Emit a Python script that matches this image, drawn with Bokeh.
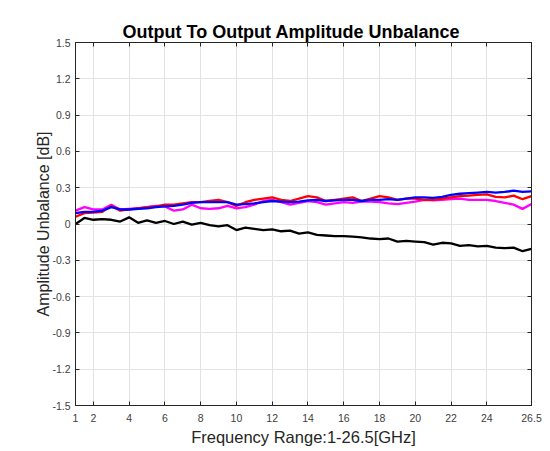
from bokeh.plotting import figure
from bokeh.models import FixedTicker, LinearAxis, Range1d
from bokeh.embed import file_html
from bokeh.resources import INLINE

freq = [1, 1.5, 2, 2.5, 3, 3.5, 4, 4.5, 5, 5.5, 6, 6.5, 7, 7.5, 8, 8.5, 9, 9.5,
        10, 10.5, 11, 11.5, 12, 12.5, 13, 13.5, 14, 14.5, 15, 15.5, 16, 16.5,
        17, 17.5, 18, 18.5, 19, 19.5, 20, 20.5, 21, 21.5, 22, 22.5, 23, 23.5,
        24, 24.5, 25, 25.5, 26, 26.5]

blue = [0.09, 0.10, 0.10, 0.11, 0.14, 0.12, 0.12, 0.125, 0.13, 0.14, 0.145, 0.15,
        0.16, 0.175, 0.18, 0.18, 0.18, 0.18, 0.16, 0.165, 0.17, 0.18, 0.19, 0.185,
        0.18, 0.185, 0.195, 0.20, 0.19, 0.195, 0.20, 0.20, 0.19, 0.20, 0.20, 0.205,
        0.20, 0.21, 0.22, 0.22, 0.215, 0.225, 0.24, 0.25, 0.255, 0.26, 0.265, 0.26,
        0.265, 0.275, 0.265, 0.27]

red = [0.06, 0.09, 0.095, 0.10, 0.15, 0.11, 0.12, 0.13, 0.14, 0.145, 0.16, 0.16,
       0.17, 0.18, 0.18, 0.19, 0.20, 0.18, 0.15, 0.18, 0.20, 0.21, 0.22, 0.20,
       0.19, 0.21, 0.23, 0.22, 0.19, 0.20, 0.21, 0.22, 0.19, 0.21, 0.23, 0.22,
       0.20, 0.21, 0.21, 0.20, 0.20, 0.21, 0.22, 0.23, 0.235, 0.24, 0.245, 0.225,
       0.22, 0.235, 0.205, 0.23]

magenta = [0.11, 0.14, 0.12, 0.12, 0.16, 0.12, 0.125, 0.13, 0.14, 0.15, 0.145, 0.11,
           0.12, 0.16, 0.13, 0.125, 0.13, 0.15, 0.13, 0.14, 0.16, 0.19, 0.20, 0.18,
           0.16, 0.175, 0.19, 0.18, 0.16, 0.17, 0.18, 0.175, 0.185, 0.185, 0.18, 0.17,
           0.165, 0.175, 0.185, 0.20, 0.195, 0.20, 0.205, 0.21, 0.20, 0.20, 0.20, 0.19,
           0.175, 0.16, 0.125, 0.165]

black = [0.0, 0.05, 0.035, 0.04, 0.035, 0.02, 0.055, 0.01, 0.03, 0.01, 0.025, 0.0,
         0.02, -0.005, 0.01, -0.01, -0.02, -0.01, -0.05, -0.03, -0.04, -0.05, -0.045, -0.06,
         -0.055, -0.08, -0.07, -0.09, -0.095, -0.10, -0.10, -0.105, -0.11, -0.12, -0.125, -0.12,
         -0.145, -0.14, -0.145, -0.15, -0.17, -0.155, -0.16, -0.18, -0.175, -0.185, -0.18, -0.195,
         -0.20, -0.195, -0.225, -0.205]

x_ticks = [1, 2, 4, 6, 8, 10, 12, 14, 16, 18, 20, 22, 24, 26.5]
x_tick_labels = ["1", "2", "4", "6", "8", "10", "12", "14", "16", "18", "20", "22", "24", "26.5"]
y_ticks = [-1.5, -1.2, -0.9, -0.6, -0.3, 0, 0.3, 0.6, 0.9, 1.2, 1.5]
y_tick_labels = ["-1.5", "-1.2", "-0.9", "-0.6", "-0.3", "0", "0.3", "0.6", "0.9", "1.2", "1.5"]

FONT = "Liberation Sans"
AX = "#262626"

p = figure(width=544, height=448, output_backend="svg", toolbar_location=None,
           x_range=Range1d(1, 26.5), y_range=Range1d(-1.5, 1.5),
           min_border_left=75, min_border_right=13, min_border_top=42, min_border_bottom=10,
           background_fill_color="white", border_fill_color="white",
           title="Output To Output Amplitude Unbalance")

p.title.text_font = FONT
p.title.text_font_size = "18px"
p.title.text_font_style = "bold"
p.title.text_color = "black"
p.title.align = "left"
p.title.offset = 47
p.title.standoff = 2

p.outline_line_color = AX
p.outline_line_width = 1

for ax, ticks, labels, name in [(p.xaxis[0], x_ticks, x_tick_labels, "Frequency Range:1-26.5[GHz]"),
                                (p.yaxis[0], y_ticks, y_tick_labels, "Amplitude Unbalance [dB]")]:
    ax.ticker = FixedTicker(ticks=ticks)
    ax.major_label_overrides = {t: l for t, l in zip(ticks, labels)}
    ax.minor_tick_line_color = None
    ax.major_tick_in = 4
    ax.major_tick_out = 0
    ax.axis_line_color = AX
    ax.major_tick_line_color = AX
    ax.major_label_text_font = FONT
    ax.major_label_text_font_size = "10.5px"
    ax.major_label_text_color = "#404040"
    ax.axis_label = name
    ax.axis_label_text_font = FONT
    ax.axis_label_text_font_style = "normal"
    ax.axis_label_text_color = AX

p.xaxis[0].axis_label_text_font_size = "16.5px"
p.yaxis[0].axis_label_text_font_size = "16px"
p.xaxis[0].major_label_standoff = 8
p.xaxis[0].axis_label_standoff = 3
p.yaxis[0].major_label_standoff = 5
p.yaxis[0].axis_label_standoff = -3

for loc, ticks in [("above", x_ticks), ("right", y_ticks)]:
    a = LinearAxis(ticker=FixedTicker(ticks=ticks))
    a.major_label_overrides = {t: "" for t in ticks}
    a.major_label_standoff = 0
    a.minor_tick_line_color = None
    a.major_tick_in = 4
    a.major_tick_out = 0
    a.axis_line_color = AX
    a.major_tick_line_color = AX
    p.add_layout(a, loc)

p.xgrid.ticker = FixedTicker(ticks=x_ticks)
p.ygrid.ticker = FixedTicker(ticks=y_ticks)
p.grid.grid_line_color = "#e3e3e3"
p.grid.grid_line_width = 1

lw = 2.3
p.line(freq, black, line_color="black", line_width=lw)
p.line(freq, magenta, line_color="#ff00ff", line_width=lw)
p.line(freq, red, line_color="#ff0000", line_width=lw)
p.line(freq, blue, line_color="#0000ff", line_width=lw)

open("out.html", "w").write(file_html(p, INLINE))
